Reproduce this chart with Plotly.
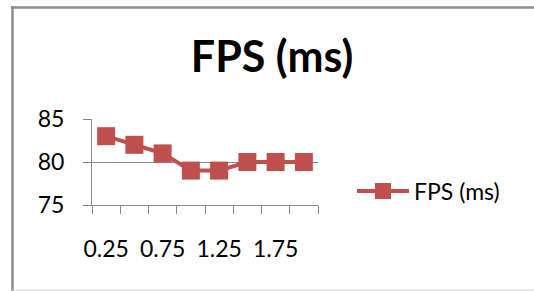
import plotly.graph_objects as go

categories = ["0.25", "0.5", "0.75", "1", "1.25", "1.5", "1.75", "2"]
fps_values = [83, 82, 81, 79, 79, 80, 80, 80]
series_name = "FPS (ms)"
y_ticks = [75, 80, 85]

W, H = 534, 291
L, T = 92, 119
R = W - 318
B = H - 205
pw, ph = W - L - R, H - T - B

def px(x):
    return (x - L) / pw

def py(y):
    return (H - B - y) / ph

color = "#C0504D"
axis_gray = "#868686"
font = "Lato, 'Open Sans', sans-serif"

fig = go.Figure()
fig.add_trace(go.Scatter(
    x=categories, y=fps_values, name=series_name, mode="lines+markers",
    line=dict(color=color, width=4),
    marker=dict(symbol="square", size=18, color=color),
))

frame = "#8C8C8C"
fig.update_layout(
    width=W, height=H,
    margin=dict(l=L, r=R, t=T, b=B, autoexpand=False),
    paper_bgcolor="white", plot_bgcolor="white",
    font=dict(family=font, size=23, color="#000000"),
    title=dict(text="<b>FPS (ms)</b>", font=dict(size=43, family=font, color="#000"),
               x=272 / W, xanchor="center", xref="container",
               y=1 - 56.5 / H, yanchor="middle", yref="container"),
    showlegend=True,
    legend=dict(x=px(352), y=py(191), xanchor="left", yanchor="middle",
                font=dict(size=23, family=font), bgcolor="rgba(0,0,0,0)",
                itemwidth=52),
    xaxis=dict(type="category", tickmode="array", tickvals=categories,
               ticktext=[c if i % 2 == 0 else "" for i, c in enumerate(categories)],
               tickangle=0, automargin=False,
               tickson="boundaries", ticks="outside", ticklen=8, tickcolor=axis_gray,
               showline=True, linecolor=axis_gray, linewidth=1,
               showgrid=False, ticklabelstandoff=23, range=[-0.5, len(categories) - 0.5],
               fixedrange=True),
    yaxis=dict(range=[y_ticks[0], y_ticks[-1]], tickvals=y_ticks, ticks="outside",
               automargin=False,
               ticklen=8, tickcolor=axis_gray, showline=True, linecolor=axis_gray,
               linewidth=1, showgrid=True, gridcolor=axis_gray, gridwidth=1,
               zeroline=False, ticklabelstandoff=14, fixedrange=True),
    shapes=[
        dict(type="line", xref="paper", yref="paper", x0=px(12.5), x1=px(12.5),
             y0=py(291), y1=py(6), line=dict(color=frame, width=2.5), layer="below"),
        dict(type="line", xref="paper", yref="paper", x0=px(11), x1=px(540),
             y0=py(7.5), y1=py(7.5), line=dict(color=frame, width=2.5), layer="below"),
        dict(type="line", xref="paper", yref="paper", x0=px(12), x1=px(540),
             y0=py(290), y1=py(290), line=dict(color="#D4D4D4", width=1), layer="below"),
    ],
)

fig.write_html(
    "out.html",
    config={"displayModeBar": False},
    post_script="document.body.style.margin='0';document.body.style.overflow='hidden';",
)
